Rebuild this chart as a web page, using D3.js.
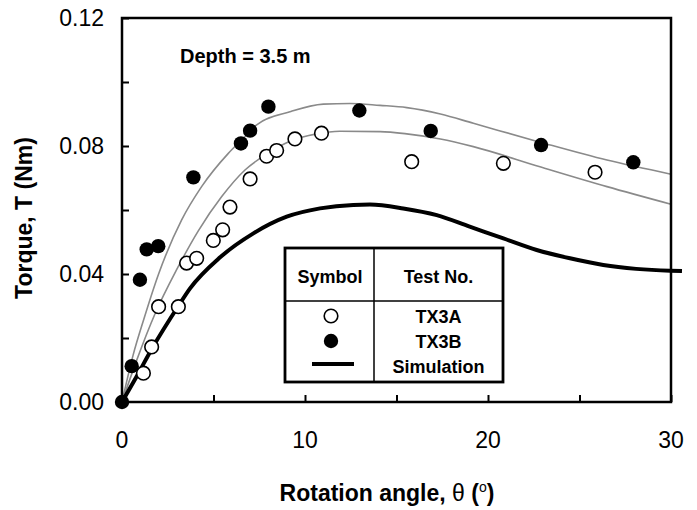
<!DOCTYPE html>
<html>
<head>
<meta charset="utf-8">
<script src="https://cdn.jsdelivr.net/npm/d3@7"></script>
<style>
  body { margin: 0; background: #fff; }
  svg { font-family: "Liberation Sans", Arial, sans-serif; }
</style>
</head>
<body>
<svg id="graph" width="697" height="510"></svg>
<script>
// Data: rotation angle (deg) vs torque (Nm)

var xTicks = [0, 10, 20, 30], xMinor = [5, 15, 25];
var yTicks = [0, 0.04, 0.08, 0.12], yMinor = [0.02, 0.06, 0.10];

var tx3a = [[1.17,0.009],[1.62,0.0172],[2.0,0.0298],[3.08,0.0298],[3.53,0.0434],[4.08,0.0449],[4.99,0.0505],
            [5.5,0.0538],[5.9,0.0609],[7.0,0.0697],[7.9,0.0768],[8.45,0.0786],[9.45,0.0822],[10.9,0.084],
            [15.83,0.0751],[20.84,0.0746],[25.85,0.0718]];

var tx3b = [[0,0],[0.53,0.0112],[0.98,0.0382],[1.35,0.0477],[1.98,0.0487],[3.9,0.0702],[6.5,0.0808],
            [7.0,0.0848],[8.0,0.0923],[12.97,0.0911],[16.87,0.0847],[22.9,0.0803],[27.94,0.0749]];

var fitA = [[0,0],[0.8,0.013],[1.8,0.0275],[3.0,0.0415],[4.17,0.0535],[5.45,0.0642],[6.72,0.0725],[7.9,0.0775],
            [9.18,0.0815],[10.64,0.0838],[11.9,0.0846],[14.1,0.0845],[15.56,0.0838],[17.4,0.0822],[19.2,0.0798],
            [22.84,0.0735],[26.5,0.0673],[30,0.0618]];

var fitB = [[0,0],[0.6,0.0145],[1.2,0.026],[2.0,0.040],[3.26,0.0569],[4.35,0.0673],[5.81,0.0777],[6.72,0.0829],
            [7.36,0.0866],[9.18,0.0907],[11,0.0931],[12.46,0.0933],[14.1,0.0927],[15.56,0.092],[17.4,0.09],
            [19.2,0.0871],[22.84,0.0812],[26.5,0.0756],[30,0.0712]];

var simulation = [[0,0],[0.8,0.008],[1.65,0.0168],[3.08,0.030],[3.72,0.0355],[5.36,0.0452],[7.18,0.0527],[9.0,0.0579],
                  [10.82,0.0605],[12.64,0.0616],[13.55,0.0617],[15.37,0.0605],[17.2,0.0584],[19.0,0.0548],
                  [20.84,0.0511],[22.66,0.0475],[24.48,0.0449],[26.3,0.0428],[28.1,0.0416],[29.95,0.041],[30.6,0.0409]];

var legendRows = ['TX3A', 'TX3B', 'Simulation'];

/*************************************************/

var svg = d3.select('#graph');
var xScale = d3.scaleLinear().domain([0, 30]).range([122, 671]);
var yScale = d3.scaleLinear().domain([0, 0.12]).range([402, 18]);
var lineGen = d3.line().x(function(d){ return xScale(d[0]) }).y(function(d){ return yScale(d[1]) }).curve(d3.curveMonotoneX);

// fitted curves and simulation
svg.append('path').attr('d', lineGen(fitA)).style('fill', 'none').style('stroke', '#8a8a8a').style('stroke-width', 1.6);
svg.append('path').attr('d', lineGen(fitB)).style('fill', 'none').style('stroke', '#8a8a8a').style('stroke-width', 1.6);
svg.append('path').attr('d', lineGen(simulation)).style('fill', 'none').style('stroke', '#000').style('stroke-width', 4);

// frame and axes
svg.append('rect').attr('x', xScale(0)).attr('y', yScale(0.12)).attr('width', xScale(30) - xScale(0)).attr('height', yScale(0) - yScale(0.12))
   .style('fill', 'none').style('stroke', '#000').style('stroke-width', 2.5);

var xAxis = svg.append('g').attr('transform', 'translate(0,' + yScale(0) + ')')
   .call(d3.axisTop(xScale).tickValues(xTicks.concat(xMinor)).tickSize(7).tickFormat(''));
var yAxis = svg.append('g').attr('transform', 'translate(' + xScale(0) + ',0)')
   .call(d3.axisRight(yScale).tickValues(yTicks.concat(yMinor)).tickSize(7).tickFormat(''));
svg.selectAll('.domain').remove();
svg.selectAll('.tick line').style('stroke', '#000').style('stroke-width', 2);

svg.selectAll('.xlab').data(xTicks).enter().append('text')
   .attr('x', function(d){ return xScale(d) }).attr('y', 448).attr('text-anchor', 'middle')
   .style('font-size', '23px').text(function(d){ return d3.format('d')(d) });
svg.selectAll('.ylab').data(yTicks).enter().append('text')
   .attr('x', 104).attr('y', function(d){ return yScale(d) + 8 }).attr('text-anchor', 'end')
   .style('font-size', '23px').text(function(d){ return d3.format('.2f')(d) });

// axis titles
var xt = svg.append('text').attr('x', 387).attr('y', 501).attr('text-anchor', 'middle')
   .style('font-size', '23px').style('font-weight', 'bold');
xt.append('tspan').text('Rotation angle, ');
xt.append('tspan').style('font-weight', 'normal').text('θ');
xt.append('tspan').text(' (');
xt.append('tspan').attr('dy', -9).style('font-size', '14px').style('font-weight', 'normal').text('o');
xt.append('tspan').attr('dy', 9).text(')');

svg.append('text').attr('transform', 'translate(32,218) rotate(-90)').attr('text-anchor', 'middle')
   .style('font-size', '23px').style('font-weight', 'bold').text('Torque, T (Nm)');

svg.append('text').attr('x', 180).attr('y', 63).style('font-size', '20px').style('font-weight', 'bold').text('Depth = 3.5 m');

// data points
svg.selectAll('.ptb').data(tx3b).enter().append('circle')
   .attr('cx', function(d){ return xScale(d[0]) }).attr('cy', function(d){ return yScale(d[1]) })
   .attr('r', 7.2).style('fill', '#000');
svg.selectAll('.pta').data(tx3a).enter().append('circle')
   .attr('cx', function(d){ return xScale(d[0]) }).attr('cy', function(d){ return yScale(d[1]) })
   .attr('r', 6.8).style('fill', '#fff').style('stroke', '#000').style('stroke-width', 1.6);

// legend table
var lg = svg.append('g');
lg.append('rect').attr('x', 285).attr('y', 248).attr('width', 218).attr('height', 134)
  .style('fill', '#fff').style('stroke', '#000').style('stroke-width', 2.8);
lg.append('line').attr('x1', 374).attr('x2', 374).attr('y1', 248).attr('y2', 382).style('stroke', '#000').style('stroke-width', 1.5);
lg.append('line').attr('x1', 285).attr('x2', 503).attr('y1', 301).attr('y2', 301).style('stroke', '#000').style('stroke-width', 1.5);
lg.append('text').attr('x', 330).attr('y', 283).attr('text-anchor', 'middle').style('font-size', '18px').style('font-weight', 'bold').text('Symbol');
lg.append('text').attr('x', 438.5).attr('y', 283).attr('text-anchor', 'middle').style('font-size', '18px').style('font-weight', 'bold').text('Test No.');
lg.selectAll('.row').data(legendRows).enter().append('text')
  .attr('x', 438.5).attr('y', function(d, i){ return 323 + i * 25 }).attr('text-anchor', 'middle')
  .style('font-size', '18px').style('font-weight', 'bold').text(function(d){ return d });
lg.append('circle').attr('cx', 331).attr('cy', 316).attr('r', 6.8).style('fill', '#fff').style('stroke', '#000').style('stroke-width', 1.6);
lg.append('circle').attr('cx', 331).attr('cy', 341).attr('r', 7.2).style('fill', '#000');
lg.append('line').attr('x1', 312).attr('x2', 354).attr('y1', 364).attr('y2', 364).style('stroke', '#000').style('stroke-width', 4);
</script>
</body>
</html>
